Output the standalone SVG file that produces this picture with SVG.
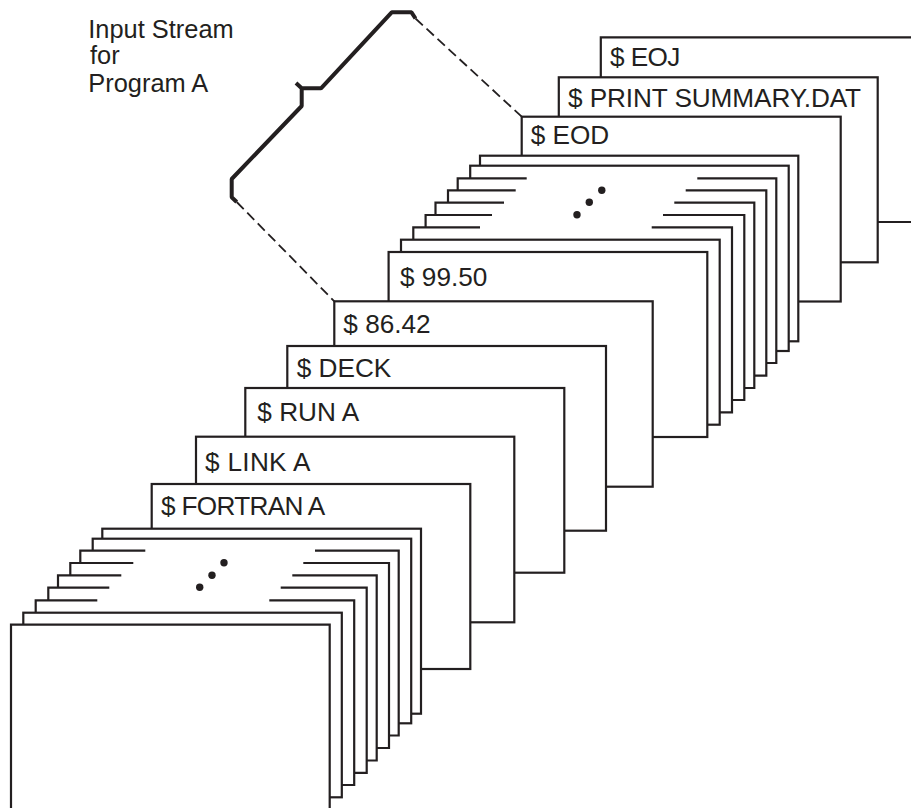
<svg xmlns="http://www.w3.org/2000/svg" width="911" height="808" viewBox="0 0 911 808">
<style>
.c{fill:#fff;stroke:#231f20;stroke-width:2.2;stroke-linejoin:miter}
.t{font-family:"Liberation Sans",Arial,sans-serif;font-size:26.2px;fill:#231f20}
.p{font-family:"Liberation Sans",Arial,sans-serif;font-size:25.4px;fill:#231f20}
.d{fill:#231f20}
.h{fill:none;stroke:#231f20;stroke-width:4;stroke-linejoin:bevel}
.l{fill:none;stroke:#231f20;stroke-width:1.8;stroke-dasharray:10 5}
</style>
<rect width="911" height="808" fill="#fff"/>
<g id="connectors">
<path class="h" d="M415.5 18.5L411.5 12.3H391.7L321 88.3H301.7L296 83M301.7 88.3V106L231.7 179V197.3L236.7 202"/>
<path class="l" d="M415.5 18.5L521.7 116.7"/>
<path class="l" d="M236.7 202L334.3 301.3"/>
</g>
<g id="card-eoj"><path class="c" d="M911 37.3H600.8V222H911"/><text class="t" x="610" y="65.7" letter-spacing="-0.6">$ EOJ</text></g>
<g id="card-print"><rect class="c" x="558.8" y="77.3" width="318.9" height="185"/><text class="t" x="568" y="107.3" letter-spacing="-0.1">$ PRINT SUMMARY.DAT</text></g>
<g id="card-eod"><rect class="c" x="521.7" y="116.7" width="319" height="184.8"/><text class="t" x="530.7" y="144.3">$ EOD</text></g>
<g id="deck-data">
<rect class="c" x="480" y="155.7" width="318.3" height="185.6"/>
<rect class="c" x="470.2" y="165.7" width="318.5" height="185.3"/>
<path class="c" d="M526.7 178.3H457.7V363H776.3V178.3H697.3"/>
<path class="c" d="M515.7 190.3H448V375.7H766.3V190.3H685.7"/>
<path class="c" d="M504 202.7H435.5V388H754.3V202.7H674.3"/>
<path class="c" d="M492 215H425.6V400H744.3V215H663"/>
<path class="c" d="M480 227.3H413.3V412.3H732V227.3H651.7"/>
<rect class="c" x="401" y="239.7" width="318.7" height="185"/>
<circle class="d" cx="601.8" cy="190.3" r="3.7"/>
<circle class="d" cx="589.3" cy="202.3" r="3.7"/>
<circle class="d" cx="577" cy="214.7" r="3.7"/>
</g>
<g id="card-9950"><rect class="c" x="388.6" y="252" width="318.7" height="185"/><text class="t" x="400" y="286">$ 99.50</text></g>
<g id="card-8642"><rect class="c" x="334.3" y="301.3" width="318.4" height="185.4"/><text class="t" x="343.3" y="332.7">$ 86.42</text></g>
<g id="card-deck"><rect class="c" x="287.3" y="346" width="318.7" height="184.7"/><text class="t" x="296.7" y="377">$ DECK</text></g>
<g id="card-run"><rect class="c" x="245.3" y="388" width="319" height="184.7"/><text class="t" x="257.3" y="420.7">$ RUN A</text></g>
<g id="card-link"><rect class="c" x="196" y="436.7" width="318.3" height="185.6"/><text class="t" x="205" y="470.7" letter-spacing="0.3">$ LINK A</text></g>
<g id="card-fortran"><rect class="c" x="151.7" y="484" width="318.6" height="185"/><text class="t" x="161" y="515" letter-spacing="-0.7">$ FORTRAN A</text></g>
<g id="deck-source">
<rect class="c" x="102.3" y="528.7" width="318.7" height="185"/>
<rect class="c" x="92.7" y="538.7" width="318.5" height="184.6"/>
<path class="c" d="M145.3 550.7H80.3V735.5H398.7V550.7H315"/>
<path class="c" d="M133.3 563H70.3V748H389V563H303.3"/>
<path class="c" d="M121.3 575.3H58V760.5H376.7V575.3H292.3"/>
<path class="c" d="M109.3 587.7H48.3V772.8H366.7V587.7H280.7"/>
<path class="c" d="M97.3 600.3H35.7V785H354.2V600.3H269.3"/>
<rect class="c" x="23.3" y="612.7" width="318.5" height="184.6"/>
<circle class="d" cx="224" cy="562.7" r="3.7"/>
<circle class="d" cx="212" cy="575.3" r="3.7"/>
<circle class="d" cx="199.7" cy="587.3" r="3.7"/>
</g>
<g id="card-front"><path class="c" d="M11 808V624.7H329.7V808"/></g>
<g id="caption">
<text class="p" x="88.3" y="38.3">Input Stream</text>
<text class="p" x="90" y="64">for</text>
<text class="p" x="88.3" y="91.7">Program A</text>
</g>
</svg>
